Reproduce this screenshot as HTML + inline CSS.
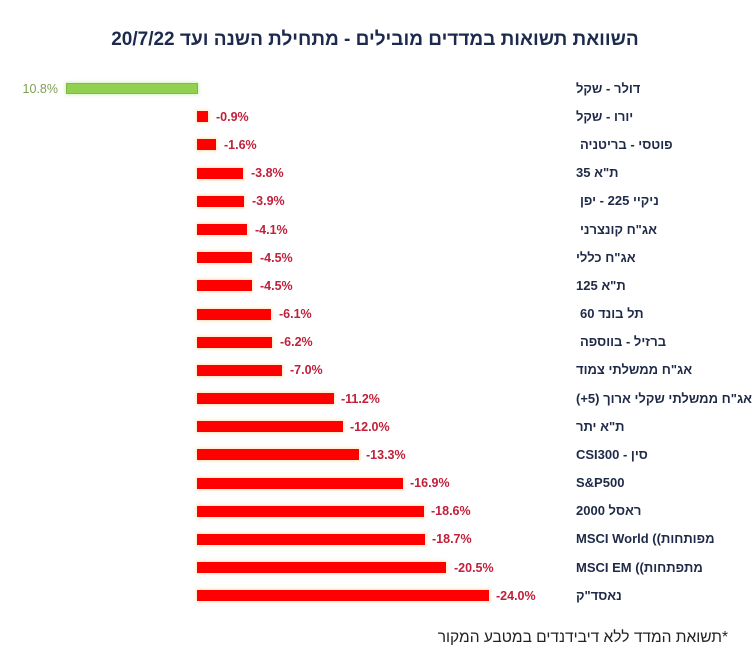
<!DOCTYPE html>
<html>
<head>
<meta charset="utf-8">
<style>
  html,body{margin:0;padding:0;background:#fff;}
  body{width:753px;height:650px;position:relative;overflow:hidden;font-family:"Liberation Sans","DejaVu Sans",sans-serif;}
  .title{position:absolute;left:0;width:750px;top:27px;text-align:center;direction:rtl;font-weight:bold;font-size:19px;line-height:26px;color:#1c2a4e;white-space:nowrap;}
  .bar{position:absolute;height:11px;background:#ff0000;box-shadow:0 0 3px 1px rgba(255,205,130,0.55);}
  .bar.g{background:#92d050;border:1px solid #7fba45;box-sizing:border-box;box-shadow:0 0 3px 1px rgba(190,230,150,0.6);}
  .val{position:absolute;font-weight:bold;font-size:12.5px;line-height:16px;color:#c0203a;white-space:nowrap;}
  .val.g{color:#7f9f55;font-weight:normal;}
  .lab{position:absolute;font-weight:bold;font-size:13px;line-height:16px;color:#1f2a48;white-space:nowrap;}
  .rtl{direction:rtl;}
  .ltr{direction:ltr;}
  .foot{position:absolute;right:25px;top:629px;direction:rtl;font-size:15.5px;line-height:18px;color:#222;white-space:nowrap;}
</style>
</head>
<body>
<div class="title">השוואת תשואות במדדים מובילים - מתחילת השנה ועד 20/7/22</div>

<div class="bar g" style="left:66px;top:83px;width:132px;"></div>
<div class="val g" style="left:20px;top:81px;width:38px;text-align:right;">10.8%</div>
<div class="lab rtl" style="left:576px;top:81px;">דולר - שקל</div>

<div class="bar" style="left:197px;top:111px;width:11px;"></div>
<div class="val" style="left:216px;top:109px;">-0.9%</div>
<div class="lab rtl" style="left:576px;top:109px;">יורו - שקל</div>

<div class="bar" style="left:197px;top:139px;width:19px;"></div>
<div class="val" style="left:224px;top:137px;">-1.6%</div>
<div class="lab rtl" style="left:580px;top:137px;">פוטסי - בריטניה</div>

<div class="bar" style="left:197px;top:168px;width:46px;"></div>
<div class="val" style="left:251px;top:165px;">-3.8%</div>
<div class="lab rtl" style="left:576px;top:165px;">ת"א 35</div>

<div class="bar" style="left:197px;top:196px;width:47px;"></div>
<div class="val" style="left:252px;top:193px;">-3.9%</div>
<div class="lab rtl" style="left:580px;top:193px;">ניקיי 225 - יפן</div>

<div class="bar" style="left:197px;top:224px;width:50px;"></div>
<div class="val" style="left:255px;top:222px;">-4.1%</div>
<div class="lab rtl" style="left:580px;top:222px;">אג"ח קונצרני</div>

<div class="bar" style="left:197px;top:252px;width:55px;"></div>
<div class="val" style="left:260px;top:250px;">-4.5%</div>
<div class="lab rtl" style="left:576px;top:250px;">אג"ח כללי</div>

<div class="bar" style="left:197px;top:280px;width:55px;"></div>
<div class="val" style="left:260px;top:278px;">-4.5%</div>
<div class="lab rtl" style="left:576px;top:278px;">ת"א 125</div>

<div class="bar" style="left:197px;top:309px;width:74px;"></div>
<div class="val" style="left:279px;top:306px;">-6.1%</div>
<div class="lab rtl" style="left:580px;top:306px;">תל בונד 60</div>

<div class="bar" style="left:197px;top:337px;width:75px;"></div>
<div class="val" style="left:280px;top:334px;">-6.2%</div>
<div class="lab rtl" style="left:580px;top:334px;">ברזיל - בווספה</div>

<div class="bar" style="left:197px;top:365px;width:85px;"></div>
<div class="val" style="left:290px;top:362px;">-7.0%</div>
<div class="lab rtl" style="left:576px;top:362px;">אג"ח ממשלתי צמוד</div>

<div class="bar" style="left:197px;top:393px;width:137px;"></div>
<div class="val" style="left:341px;top:391px;">-11.2%</div>
<div class="lab rtl" style="left:576px;top:391px;">אג"ח ממשלתי שקלי ארוך (5+)</div>

<div class="bar" style="left:197px;top:421px;width:146px;"></div>
<div class="val" style="left:350px;top:419px;">-12.0%</div>
<div class="lab rtl" style="left:576px;top:419px;">ת"א יתר</div>

<div class="bar" style="left:197px;top:449px;width:162px;"></div>
<div class="val" style="left:366px;top:447px;">-13.3%</div>
<div class="lab ltr" style="left:576px;top:447px;">CSI300 - סין</div>

<div class="bar" style="left:197px;top:478px;width:206px;"></div>
<div class="val" style="left:410px;top:475px;">-16.9%</div>
<div class="lab ltr" style="left:576px;top:475px;">S&amp;P500</div>

<div class="bar" style="left:197px;top:506px;width:227px;"></div>
<div class="val" style="left:431px;top:503px;">-18.6%</div>
<div class="lab rtl" style="left:576px;top:503px;">ראסל 2000</div>

<div class="bar" style="left:197px;top:534px;width:228px;"></div>
<div class="val" style="left:432px;top:531px;">-18.7%</div>
<div class="lab ltr" style="left:576px;top:531px;">MSCI World ((מפותחות</div>

<div class="bar" style="left:197px;top:562px;width:249px;"></div>
<div class="val" style="left:454px;top:560px;">-20.5%</div>
<div class="lab ltr" style="left:576px;top:560px;">MSCI EM ((מתפתחות</div>

<div class="bar" style="left:197px;top:590px;width:292px;"></div>
<div class="val" style="left:496px;top:588px;">-24.0%</div>
<div class="lab rtl" style="left:576px;top:588px;">נאסד"ק</div>

<div class="foot">*תשואת המדד ללא דיבידנדים במטבע המקור</div>
</body>
</html>
